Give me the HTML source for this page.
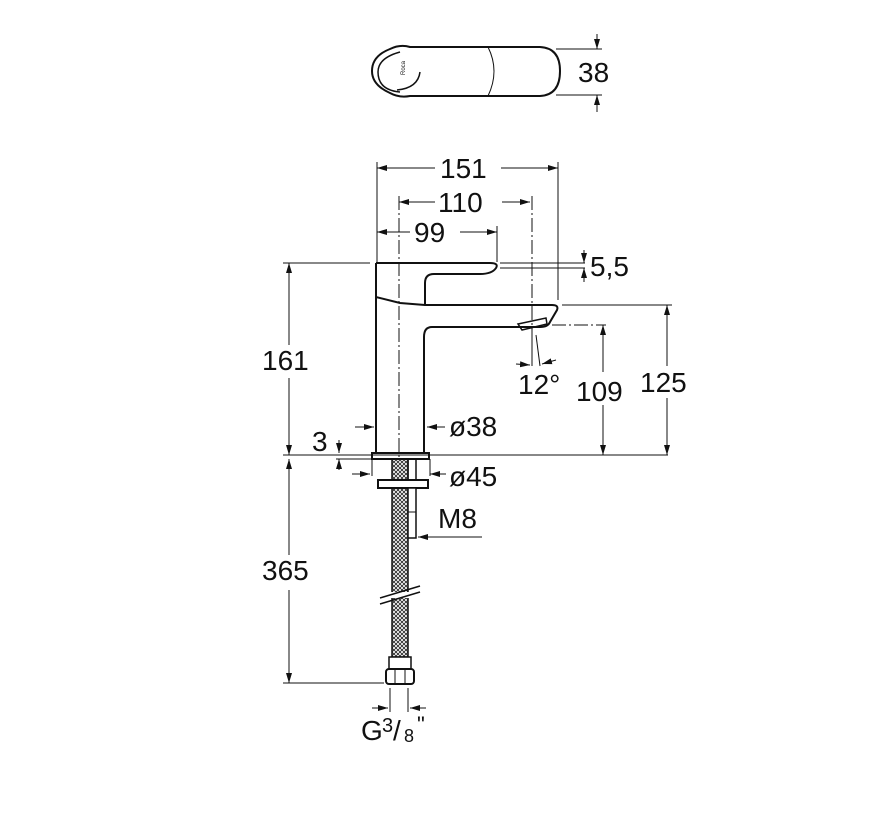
<!DOCTYPE html>
<html><head><meta charset="utf-8"><style>
html,body{margin:0;padding:0;background:#fff;}
svg text{font-family:"Liberation Sans",sans-serif;fill:#111;}
</style></head><body>
<svg width="894" height="818" viewBox="0 0 894 818" xmlns="http://www.w3.org/2000/svg">
<defs>
<marker id="a" markerWidth="10" markerHeight="8" refX="10" refY="4" orient="auto" markerUnits="userSpaceOnUse"><path d="M0,1 L10,4 L0,7 Z" fill="#111"/></marker>
<pattern id="mesh" width="4" height="4" patternUnits="userSpaceOnUse"><path d="M0,0 L4,4 M4,0 L0,4" stroke="#222" stroke-width="0.8"/></pattern>
</defs>
<g fill="none" stroke="#111" stroke-width="1">
<!-- top view -->
<path d="M410,47 L540,47 Q560,48 560,71 Q560,95 540,96 L410,96 Q399,98 390,93 Q372,85 372,71 Q372,56 390,49 Q400,44 410,47 Z" stroke-width="2"/>
<path d="M400,52 Q378,58 378,72 Q378,90 400,92" stroke-width="1.5"/>
<path d="M488,47 Q500,71 488,96"/>
<path d="M397,90 Q418,88 420,72" stroke-width="1.5"/>
<text x="398" y="76" font-size="6" stroke="none" fill="#333" transform="rotate(-90 401 72)">Roca</text>
<line x1="556" y1="49" x2="602" y2="49"/><line x1="556" y1="95" x2="602" y2="95"/>
<line x1="597" y1="34" x2="597" y2="49" marker-end="url(#a)"/><line x1="597" y1="112" x2="597" y2="95" marker-end="url(#a)"/>

<!-- dimension 151 / 110 / 99 -->
<line x1="377" y1="162" x2="377" y2="262"/><line x1="558" y1="162" x2="558" y2="300"/>
<line x1="435" y1="168" x2="377" y2="168" marker-end="url(#a)"/>
<line x1="501" y1="168" x2="558" y2="168" marker-end="url(#a)"/>
<line x1="399" y1="196" x2="399" y2="460" stroke-dasharray="14,3,2,3"/>
<line x1="532" y1="196" x2="532" y2="340" stroke-dasharray="14,3,2,3"/>
<line x1="435" y1="202" x2="399" y2="202" marker-end="url(#a)"/>
<line x1="502" y1="202" x2="530" y2="202" marker-end="url(#a)"/>
<line x1="497" y1="226" x2="497" y2="262"/>
<line x1="410" y1="232" x2="377" y2="232" marker-end="url(#a)"/>
<line x1="460" y1="232" x2="497" y2="232" marker-end="url(#a)"/>
<!-- 5,5 -->
<line x1="500" y1="263" x2="585" y2="263"/><line x1="500" y1="268" x2="585" y2="268"/>
<line x1="584" y1="250" x2="584" y2="263" marker-end="url(#a)"/><line x1="584" y1="282" x2="584" y2="268" marker-end="url(#a)"/>

<!-- faucet body -->
<path d="M376,263 L490,263 Q499,263 496,268 Q492,274 480,274 L434,274 Q425,274 425,283 L425,305 L552,305 Q559,305 557,310 L550,322 Q548,327 540,327 L432,327 Q424,327 424,337 L424,453 M376,453 L376,297 L400,303 L425,305" stroke-width="2"/>
<path d="M376,263 L376,297" stroke-width="2"/>
<path d="M518,324 L546,318 L547,324 L522,330 Z" stroke-width="1.5"/>
<!-- base -->
<rect x="372" y="453" width="57" height="6" stroke-width="2"/>
<rect x="392" y="459" width="16" height="198" fill="url(#mesh)" stroke-width="1.5"/>
<line x1="408" y1="459" x2="408" y2="480" stroke-width="1.5"/>
<line x1="416" y1="459" x2="416" y2="480" stroke-width="1.5"/>
<rect x="378" y="480" width="50" height="8" fill="#fff" stroke-width="2"/>
<rect x="408" y="488" width="8" height="50" fill="#fff" stroke-width="1.5"/>
<line x1="408" y1="512" x2="416" y2="512"/>
<rect x="389" y="657" width="22" height="12" fill="#fff" stroke-width="1.5"/>
<rect x="386" y="669" width="28" height="15" rx="3" fill="#fff" stroke-width="2"/>
<line x1="395" y1="669" x2="395" y2="684"/><line x1="405" y1="669" x2="405" y2="684"/>
<rect x="384" y="592" width="34" height="6" fill="#fff" stroke="none"/>
<line x1="380" y1="598" x2="420" y2="586" stroke-width="1.5"/>
<line x1="380" y1="604" x2="420" y2="592" stroke-width="1.5"/>

<!-- 161 / 365 -->
<line x1="283" y1="263" x2="370" y2="263"/>
<line x1="283" y1="455" x2="668" y2="455"/>
<line x1="283" y1="683" x2="384" y2="683"/>
<line x1="289" y1="345" x2="289" y2="263" marker-end="url(#a)"/>
<line x1="289" y1="378" x2="289" y2="455" marker-end="url(#a)"/>
<line x1="289" y1="555" x2="289" y2="459" marker-end="url(#a)"/>
<line x1="289" y1="590" x2="289" y2="683" marker-end="url(#a)"/>
<!-- 125 -->
<line x1="562" y1="305" x2="672" y2="305"/>
<line x1="667" y1="366" x2="667" y2="305" marker-end="url(#a)"/>
<line x1="667" y1="398" x2="667" y2="455" marker-end="url(#a)"/>
<!-- 109 -->
<line x1="552" y1="325" x2="606" y2="325" stroke-dasharray="14,3,2,3"/>
<line x1="603" y1="372" x2="603" y2="325" marker-end="url(#a)"/>
<line x1="603" y1="405" x2="603" y2="455" marker-end="url(#a)"/>
<!-- 12 deg -->
<line x1="532" y1="335" x2="532" y2="366"/>
<line x1="536" y1="335" x2="540" y2="366"/>
<line x1="516" y1="364" x2="530" y2="365" marker-end="url(#a)"/>
<line x1="556" y1="360" x2="542" y2="364" marker-end="url(#a)"/>
<!-- ø38 -->
<line x1="355" y1="427" x2="374" y2="427" marker-end="url(#a)"/>
<line x1="445" y1="427" x2="427" y2="427" marker-end="url(#a)"/>
<!-- 3 -->
<line x1="339" y1="440" x2="339" y2="453" marker-end="url(#a)"/>
<line x1="339" y1="470" x2="339" y2="459" marker-end="url(#a)"/>
<line x1="336" y1="459" x2="372" y2="459"/>
<!-- ø45 -->
<line x1="352" y1="474" x2="370" y2="474" marker-end="url(#a)"/>
<line x1="446" y1="474" x2="430" y2="474" marker-end="url(#a)"/>
<line x1="372" y1="459" x2="372" y2="476"/><line x1="430" y1="459" x2="430" y2="476"/>
<!-- M8 -->
<line x1="482" y1="537" x2="418" y2="537" marker-end="url(#a)"/>
<!-- G3/8 -->
<line x1="390" y1="688" x2="390" y2="712"/><line x1="408" y1="688" x2="408" y2="712"/>
<line x1="372" y1="708" x2="388" y2="708" marker-end="url(#a)"/>
<line x1="426" y1="708" x2="410" y2="708" marker-end="url(#a)"/>
</g>
<g stroke="none" font-size="28">
<text x="578" y="82">38</text>
<text x="440" y="178">151</text>
<text x="438" y="212">110</text>
<text x="414" y="242">99</text>
<text x="590" y="276">5,5</text>
<text x="262" y="370">161</text>
<text x="518" y="394">12°</text>
<text x="576" y="401">109</text>
<text x="640" y="392">125</text>
<text x="449" y="436">ø38</text>
<text x="312" y="451">3</text>
<text x="449" y="486">ø45</text>
<text x="438" y="528">M8</text>
<text x="262" y="580">365</text>
<text x="361" y="740">G</text>
<text x="382" y="732" font-size="20">3</text>
<text x="393" y="740">/</text>
<text x="404" y="742" font-size="18">8</text>
<text x="417" y="732" font-size="22">"</text>
</g>
</svg>
</body></html>
